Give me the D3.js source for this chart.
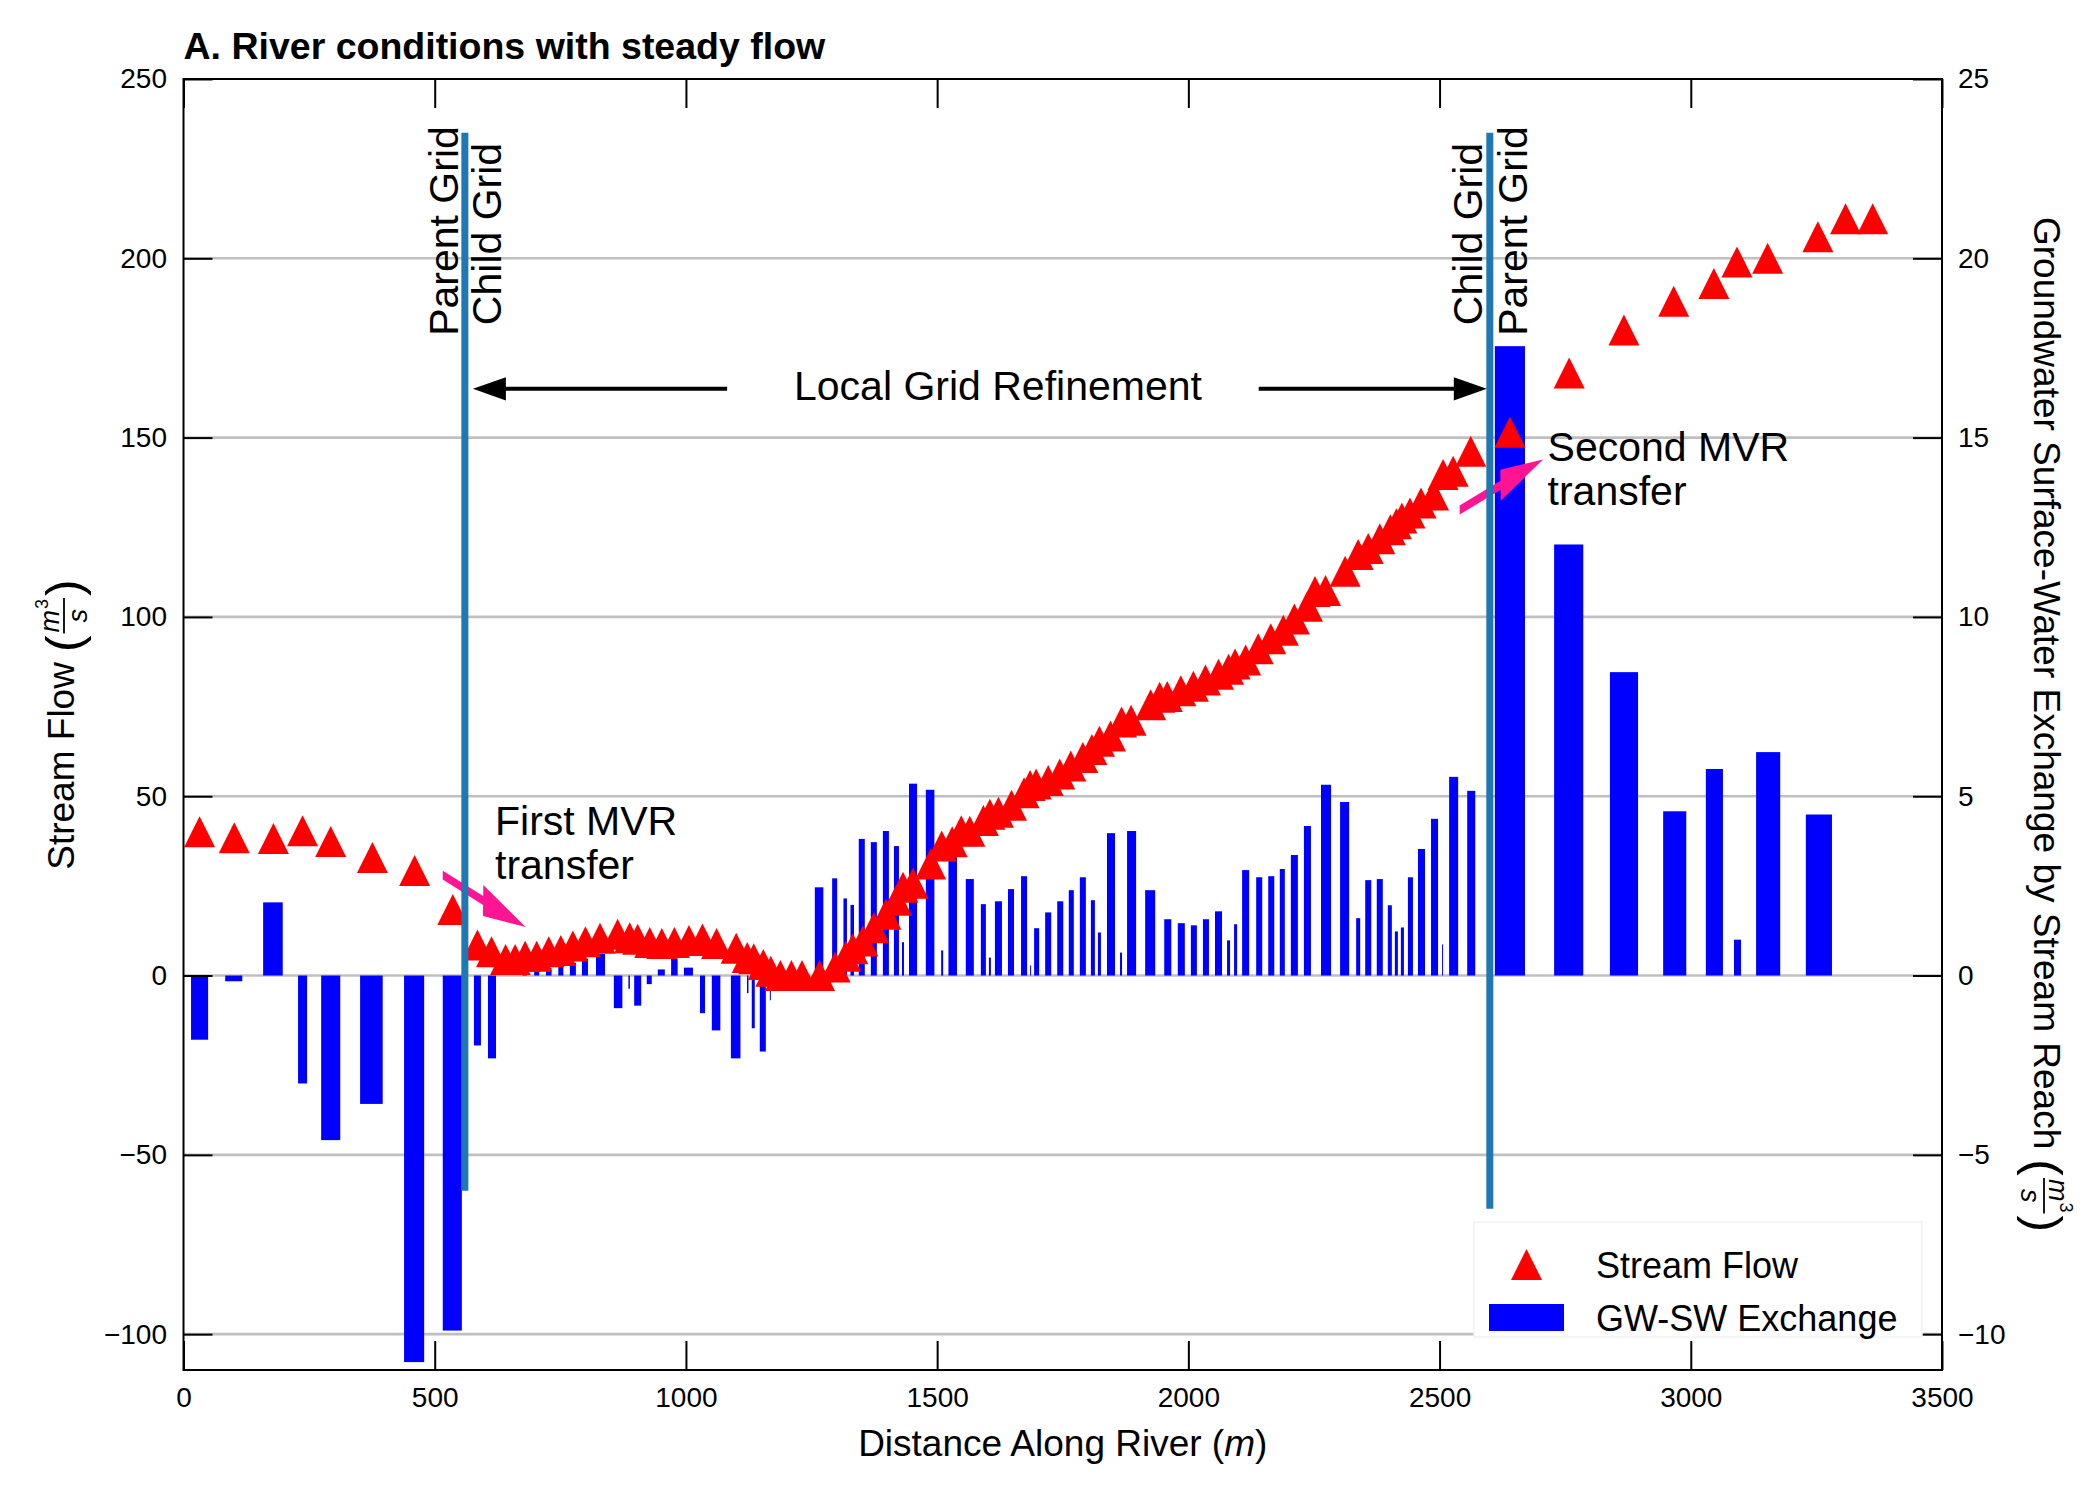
<!DOCTYPE html>
<html>
<head>
<meta charset="utf-8">
<script src="https://cdn.jsdelivr.net/npm/d3@7"></script>
<style>
    body { margin: 0; background: #fff; }
    svg text { font-family: "Liberation Sans", Arial, sans-serif; fill: #000; }
</style>
</head>
<body>
<svg id="chart" width="2100" height="1500"></svg>
<script>
// stream flow (triangles), distance along river in m, flow in m3/s
const flowDist = [32, 101, 179, 237, 293, 376, 460, 536,
    585, 613, 641, 660, 680, 703, 727, 751, 775, 800, 829, 864, 888, 904, 928, 952, 977, 1006, 1033, 1061,
    1100, 1122, 1135, 1154, 1169, 1188, 1210, 1231, 1266, 1297, 1318, 1332, 1352, 1374, 1398, 1419, 1432,
    1452, 1487, 1509, 1530, 1548, 1565, 1592, 1605, 1622, 1648, 1673, 1685, 1697, 1721, 1744, 1766, 1790,
    1808, 1823, 1845, 1867, 1886, 1925, 1943, 1958, 1985, 2010, 2034, 2060, 2080, 2093, 2114, 2139, 2164,
    2189, 2211, 2237, 2252, 2273, 2312, 2338, 2358, 2381, 2402, 2414, 2425, 2441, 2463, 2488, 2507, 2527, 2562,
    2640, 2758, 2867, 2966, 3046, 3092, 3153, 3253, 3308, 3362];
const flowQ = [40.1, 38.4, 38.2, 40.4, 37.4, 32.9, 29.3, 18.4,
    8.5, 6.6, 4.5, 4.5, 5.4, 5.4, 6.6, 7.0, 8.2, 9.4, 10.4, 11.5, 10.5, 10.1, 9.2, 8.9, 9.2, 9.8, 10.2, 8.9,
    7.6, 5.0, 4.7, 3.1, 1.2, 0, 0, 0, 0, 2.4, 5.4, 7.5, 9.6, 13.3, 17.1, 21.0, 24.6,
    25.7, 31.1, 36.1, 37.3, 40.4, 40.2, 43.2, 45.0, 45.5, 47.5, 51.0, 53.0, 53.4, 54.4, 56.2, 58.4, 60.8,
    63.0, 65.3, 66.8, 70.7, 71.2, 75.5, 77.6, 77.8, 79.4, 80.7, 82.4, 84.0, 85.4, 86.9, 88.0, 91.1, 93.9,
    96.3, 99.4, 103.0, 107.1, 107.4, 112.7, 117.4, 119.1, 121.8, 124.3, 126.0, 127.6, 129.0, 131.8, 134.0, 139.7, 140.6, 146.2,
    151.5, 168, 180, 188, 193, 199, 200, 206, 211, 211];

// groundwater / surface-water exchange (bars), right axis
const exchDist = [32, 100, 178, 237, 293, 374, 459, 535,
    585, 614, 679, 703, 727, 751, 775, 799, 830, 865, 887, 904, 927, 951, 977, 1005, 1033, 1060, 1099, 1123, 1134, 1153, 1168,
    1265, 1296, 1317, 1331, 1350, 1374, 1398, 1419, 1432, 1452, 1486, 1510, 1531, 1565, 1592, 1605, 1622, 1647, 1673, 1686,
    1698, 1721, 1745, 1767, 1790, 1810, 1823, 1846, 1866, 1887, 1924, 1959, 1986, 2011, 2035, 2060, 2080, 2094, 2114, 2141,
    2165, 2187, 2211, 2237, 2274, 2311, 2338, 2358, 2381, 2401, 2414, 2426, 2442, 2464, 2490, 2506, 2528, 2563,
    2640, 2757, 2867, 2968, 3047, 3093, 3154, 3255];
const exchQ = [-1.79, -0.16, 2.04, -3.01, -4.59, -3.58, -10.78, -9.9,
    -1.95, -2.31, 0.81, 0.6, 0.22, 0.29, 0.35, 0.47, 0.6, -0.91, -0.37, -0.84, -0.24, 0.17, 0.47, 0.22, -1.05, -1.53, -2.31, -0.49, -1.47, -2.12, -0.69,
    2.46, 2.71, 2.15, 1.97, 3.81, 3.72, 4.03, 3.61, 0.93, 5.35, 5.18, 0.70, 3.3, 2.69, 1.99, 0.5, 2.07, 2.41, 2.77, 0.28,
    1.32, 1.76, 2.07, 2.38, 2.74, 2.10, 1.20, 3.97, 0.64, 4.03, 2.38, 1.57, 1.46, 1.40, 1.57, 1.79, 0.98, 1.43, 2.94, 2.74,
    2.77, 2.97, 3.36, 4.17, 5.32, 4.84, 1.60, 2.66, 2.69, 1.96, 1.23, 1.34, 2.74, 3.53, 4.37, 0.87, 5.54, 5.15,
    17.55, 12.02, 8.46, 4.58, 5.76, 1.0, 6.23, 4.49];
const exchWidth = [34, 34, 39, 18, 38, 45, 40, 38,
    14, 16, 9, 10, 11, 10, 12, 12, 18, 17, 3, 14, 10, 14, 13, 18, 10, 17, 19, 3, 6, 12, 2,
    17, 10, 7, 7, 12, 12, 12, 10, 4, 16, 17, 4, 17, 16, 10, 4, 14, 12, 12, 2,
    10, 12, 12, 10, 12, 8, 6, 16, 4, 18, 20, 14, 14, 12, 12, 14, 6, 6, 14, 12,
    12, 10, 14, 14, 20, 18, 8, 12, 12, 8, 6, 6, 10, 14, 14, 2, 18, 16,
    60, 58, 56, 46, 34, 14, 48, 52];

const xTicks = [0, 500, 1000, 1500, 2000, 2500, 3000, 3500];
const flowTicks = [-100, -50, 0, 50, 100, 150, 200, 250];
const exchTicks = [-10, -5, 0, 5, 10, 15, 20, 25];

// grid boundaries (distance, top, bottom in flow units)
const boundaryDist = [560, 2600];
const boundaryTop = [235, 235];
const boundaryBottom = [-60, -65];

// MVR transfer arrows [distance, flow]
const mvrStart = [[516, 28], [2540, 129.8]];
const mvrEnd = [[681, 13.5], [2706, 143.9]];
const mvrText = [["First MVR", "transfer"], ["Second MVR", "transfer"]];

const margin = {top: 79, right: 158, bottom: 130, left: 183.5};
const width = 2100 - margin.left - margin.right;
const height = 1500 - margin.top - margin.bottom;

const svg = d3.select("#chart");
const chart = svg.append("g").attr("transform", "translate(" + margin.left + "," + margin.top + ")");

const x = d3.scaleLinear().domain([0, 3500]).range([0, width]);
const yFlow = d3.scaleLinear().domain([-110, 250]).range([height, 0]);
const yExch = d3.scaleLinear().domain([-11, 25]).range([height, 0]);

// gridlines
chart.append("g").selectAll("line")
    .data(flowTicks.filter(d => d < 250))
    .enter().append("line")
        .attr("x1", 0).attr("x2", width)
        .attr("y1", d => yFlow(d)).attr("y2", d => yFlow(d))
        .attr("stroke", "#c0c0c0").attr("stroke-width", 2.6);

// exchange bars
chart.append("g").selectAll("rect")
    .data(exchDist)
    .enter().append("rect")
        .attr("x", (d, i) => x(d - exchWidth[i] / 2))
        .attr("width", (d, i) => x(exchWidth[i]) - x(0))
        .attr("y", (d, i) => yExch(Math.max(0, exchQ[i])))
        .attr("height", (d, i) => Math.abs(yExch(exchQ[i]) - yExch(0)))
        .attr("fill", "#0000ff");

// stream flow triangles
const tri = 15.5;
chart.append("g").selectAll("path")
    .data(flowDist)
    .enter().append("path")
        .attr("d", (d, i) => {
            const cx = x(d), cy = yFlow(flowQ[i]);
            return "M" + cx + "," + (cy - tri) + "L" + (cx + tri) + "," + (cy + tri) + "L" + (cx - tri) + "," + (cy + tri) + "Z";
        })
        .attr("fill", "#ff0000");

// MVR arrows, built in data space like a matplotlib FancyArrow
function fancyArrow(p0, p1, w, hw, hl) {
    const dx = p1[0] - p0[0], dy = p1[1] - p0[1];
    const L = Math.hypot(dx, dy);
    const ux = dx / L, uy = dy / L, px = -uy, py = ux;
    const bx = p1[0] - ux * hl, by = p1[1] - uy * hl;
    const pts = [
        [p0[0] + px * w / 2, p0[1] + py * w / 2],
        [bx + px * w / 2, by + py * w / 2],
        [bx + px * hw / 2, by + py * hw / 2],
        [p1[0], p1[1]],
        [bx - px * hw / 2, by - py * hw / 2],
        [bx - px * w / 2, by - py * w / 2],
        [p0[0] - px * w / 2, p0[1] - py * w / 2]
    ];
    return "M" + pts.map(p => x(p[0]) + "," + yFlow(p[1])).join("L") + "Z";
}
chart.append("g").selectAll("path")
    .data(mvrStart)
    .enter().append("path")
        .attr("d", (d, i) => fancyArrow(d, mvrEnd[i], 2.5, 8.7, 85))
        .attr("fill", "#ff1493");

// grid boundary lines
chart.append("g").selectAll("line")
    .data(boundaryDist)
    .enter().append("line")
        .attr("x1", d => x(d)).attr("x2", d => x(d))
        .attr("y1", (d, i) => yFlow(boundaryTop[i]))
        .attr("y2", (d, i) => yFlow(boundaryBottom[i]))
        .attr("stroke", "#1f77b4").attr("stroke-width", 7);

// boundary labels
const bLabels = [
    {text: "Parent Grid", at: 0, dx: -7, cy: 152},
    {text: "Child Grid", at: 0, dx: 36, cy: 155},
    {text: "Child Grid", at: 1, dx: -8, cy: 155},
    {text: "Parent Grid", at: 1, dx: 37, cy: 152}
];
chart.append("g").selectAll("text")
    .data(bLabels)
    .enter().append("text")
        .attr("transform", d => "translate(" + (x(boundaryDist[d.at]) + d.dx) + "," + d.cy + ") rotate(-90)")
        .attr("text-anchor", "middle")
        .attr("font-size", 41)
        .text(d => d.text);

// Local grid refinement arrows
const lgrY = yFlow(163.6);
function blackArrow(from, to) {
    const x0 = x(from), x1 = x(to), s = Math.sign(x1 - x0);
    const g = chart.append("g");
    g.append("line").attr("x1", x0).attr("x2", x1 - s * 30).attr("y1", lgrY).attr("y2", lgrY)
        .attr("stroke", "#000").attr("stroke-width", 4);
    g.append("path")
        .attr("d", "M" + x1 + "," + lgrY + "L" + (x1 - s * 33) + "," + (lgrY - 11.7) + "L" + (x1 - s * 33) + "," + (lgrY + 11.7) + "Z")
        .attr("fill", "#000");
}
blackArrow(1082, 576);
blackArrow(2140, 2594);
chart.append("text")
    .attr("x", x(1621)).attr("y", yFlow(160.6))
    .attr("text-anchor", "middle")
    .attr("font-size", 41)
    .text("Local Grid Refinement");

// MVR labels
const mvrLabelPos = [[620, 39.2], [2715, 143.6]];
mvrText.forEach((lines, i) => {
    const t = chart.append("text")
        .attr("x", x(mvrLabelPos[i][0]))
        .attr("y", yFlow(mvrLabelPos[i][1]))
        .attr("font-size", 41);
    lines.forEach((ln, j) => {
        t.append("tspan").attr("x", x(mvrLabelPos[i][0])).attr("dy", j === 0 ? 0 : 44.5).text(ln);
    });
});

// frame and axes
chart.append("rect").attr("width", width).attr("height", height)
    .attr("fill", "none").attr("stroke", "#000").attr("stroke-width", 2);

const fmt = d3.format("d");
function styleAxis(g) {
    g.select(".domain").remove();
    g.selectAll(".tick line").attr("stroke", "#000").attr("stroke-width", 2);
    g.selectAll(".tick text").attr("font-size", 28).attr("font-family", "Liberation Sans, Arial, sans-serif").attr("fill", "#000");
}
chart.append("g").attr("transform", "translate(0," + height + ")")
    .call(d3.axisBottom(x).tickValues(xTicks).tickFormat(fmt).tickSize(-29).tickPadding(17))
    .call(styleAxis);
chart.append("g")
    .call(d3.axisTop(x).tickValues(xTicks).tickFormat("").tickSize(-29))
    .call(styleAxis);
chart.append("g")
    .call(d3.axisLeft(yFlow).tickValues(flowTicks).tickFormat(fmt).tickSize(-29).tickPadding(16.5))
    .call(styleAxis);
chart.append("g").attr("transform", "translate(" + width + ",0)")
    .call(d3.axisRight(yExch).tickValues(exchTicks).tickFormat(fmt).tickSize(-29).tickPadding(16))
    .call(styleAxis);

// title
svg.append("text")
    .attr("x", margin.left).attr("y", 59)
    .attr("font-size", 37.5).attr("font-weight", "bold")
    .text("A. River conditions with steady flow");

// x label
const xl = svg.append("text")
    .attr("x", margin.left + width / 2).attr("y", 1456)
    .attr("text-anchor", "middle").attr("font-size", 37);
xl.append("tspan").text("Distance Along River (");
xl.append("tspan").attr("font-style", "italic").text("m");
xl.append("tspan").text(")");

// y labels with (m^3 / s) fraction
function mathLabel(tx, ty, angle, label) {
    const outer = svg.append("g").attr("transform", "translate(" + tx + "," + ty + ") rotate(" + angle + ")");
    const g = outer.append("g");
    let cx = 0;
    const t = g.append("text").attr("x", cx).attr("font-size", 37).text(label);
    cx += t.node().getComputedTextLength() + 10;
    const lp = g.append("text").attr("x", cx).attr("y", 7).attr("font-size", 50).text("(");
    cx += lp.node().getComputedTextLength() + 2;
    const num = g.append("text").attr("x", cx + 1).attr("y", -15).attr("font-size", 27).attr("font-style", "italic").text("m");
    const mw = num.node().getComputedTextLength();
    g.append("text").attr("x", cx + mw + 2).attr("y", -26).attr("font-size", 18).text("3");
    const fw = mw + 13;
    g.append("line").attr("x1", cx).attr("x2", cx + fw).attr("y1", -10).attr("y2", -10)
        .attr("stroke", "#000").attr("stroke-width", 1.8);
    g.append("text").attr("x", cx + fw / 2).attr("y", 13).attr("text-anchor", "middle")
        .attr("font-size", 27).attr("font-style", "italic").text("s");
    cx += fw + 2;
    const rp = g.append("text").attr("x", cx).attr("y", 7).attr("font-size", 50).text(")");
    cx += rp.node().getComputedTextLength();
    g.attr("transform", "translate(" + (-cx / 2) + ",0)");
}
mathLabel(74, margin.top + height / 2, -90, "Stream Flow");
mathLabel(2034, margin.top + height / 2, 90, "Groundwater Surface-Water Exchange by Stream Reach");

// legend
const lg = chart.append("g").attr("transform", "translate(" + (width - 468) + "," + (height - 148) + ")");
lg.append("rect").attr("width", 448).attr("height", 115)
    .attr("fill", "#fff").attr("stroke", "#f2f2f2").attr("stroke-width", 1.5);
lg.append("path")
    .attr("d", "M52.5," + (42.5 - tri) + "L" + (52.5 + tri) + "," + (42.5 + tri) + "L" + (52.5 - tri) + "," + (42.5 + tri) + "Z")
    .attr("fill", "#ff0000");
lg.append("rect").attr("x", 15).attr("y", 82).attr("width", 75).attr("height", 27).attr("fill", "#0000ff");
lg.append("text").attr("x", 122).attr("y", 55.5).attr("font-size", 36).text("Stream Flow");
lg.append("text").attr("x", 122).attr("y", 108.5).attr("font-size", 36).text("GW-SW Exchange");
</script>
</body>
</html>
